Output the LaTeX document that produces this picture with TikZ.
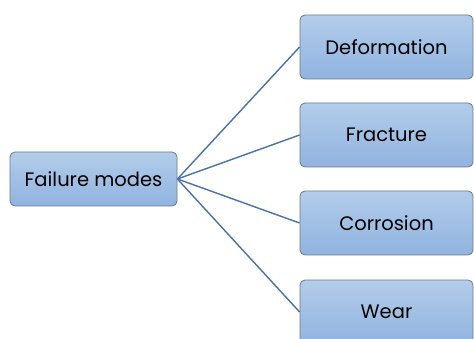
\documentclass[tikz,border=0pt]{standalone}
\usepackage{fontspec}
\setmainfont{Poppins}
\begin{document}
\begin{tikzpicture}[x=1pt,y=-1pt,
  modebox/.style={draw=boxborder, line width=0.8pt, rounded corners=5pt,
    top color=boxtop, bottom color=boxbot, minimum height=64pt, inner sep=0pt,
    font=\fontsize{19.5}{22}\selectfont, text=black},
  link/.style={draw=linkblue, line width=1.4pt}]
\definecolor{boxtop}{HTML}{B3CDEB}
\definecolor{boxbot}{HTML}{90B3DF}
\definecolor{boxborder}{HTML}{6A7A8C}
\definecolor{linkblue}{HTML}{4873A6}
\useasboundingbox (0,0) rectangle (474,339);
\clip (0,0) rectangle (474,339);
\node[modebox, minimum width=167pt, minimum height=54pt] (fm) at (93.5,179) {Failure modes};
\node[modebox, minimum width=173pt] (d) at (386.5,47) {Deformation};
\node[modebox, minimum width=173pt] (f) at (386.5,135) {Fracture};
\node[modebox, minimum width=173pt] (c) at (386.5,223) {Corrosion};
\node[modebox, minimum width=173pt] (w) at (386.5,312) {Wear};
\foreach \t in {d,f,c,w} \draw[link] (fm.east) -- (\t.west);
\end{tikzpicture}
\end{document}
